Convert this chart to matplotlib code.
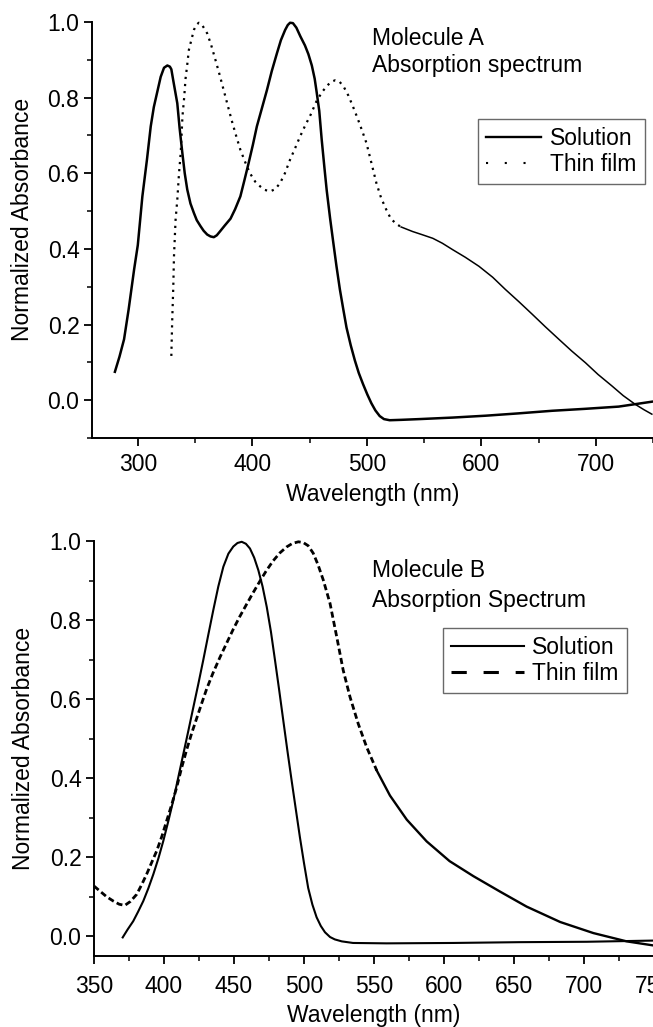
import numpy as np
import matplotlib
matplotlib.use("Agg")
import matplotlib.pyplot as plt
from matplotlib.lines import Line2D
from matplotlib.ticker import MultipleLocator, FormatStrFormatter

plt.rcParams['font.family'] = ['Liberation Sans', 'DejaVu Sans']

# ---------------- Molecule A ----------------
a_sol_wl = [280, 284, 288, 292, 296.8, 300, 304, 308, 311.3, 314, 317, 320, 322.9, 325.8, 328,
            329.3, 331, 334.5, 336.5, 338.9, 341, 343.2, 346, 349, 351.5, 354.8, 357.5, 360.6,
            363.5, 366.4, 369, 372, 376, 381, 385, 389.6, 393, 396.8, 400.5, 404, 408.5, 412.8,
            417, 421.5, 425, 428.7, 431, 433, 435.5, 438.5, 442, 446, 449, 452, 454.5, 456.2,
            458.5, 460.6, 463, 465, 468, 470.7, 473.5, 476.5, 479.5, 482.3, 486, 489.6, 493,
            496.8, 500.5, 504, 507.5, 511.3, 515, 520, 530, 546, 575, 604, 632, 662, 690, 720,
            749]
a_sol_ab = [0.075, 0.115, 0.161, 0.24, 0.346, 0.41, 0.539, 0.636, 0.724, 0.775, 0.815, 0.855,
            0.879, 0.885, 0.882, 0.875, 0.845, 0.785, 0.72, 0.654, 0.60, 0.557, 0.52, 0.495,
            0.476, 0.46, 0.448, 0.438, 0.433, 0.431, 0.436, 0.447, 0.462, 0.48, 0.505, 0.539,
            0.58, 0.627, 0.675, 0.724, 0.773, 0.82, 0.87, 0.917, 0.952, 0.979, 0.992, 0.998,
            0.997, 0.985, 0.962, 0.938, 0.915, 0.885, 0.85, 0.815, 0.765, 0.69, 0.615, 0.555,
            0.48, 0.418, 0.355, 0.293, 0.24, 0.192, 0.145, 0.105, 0.072, 0.042, 0.015, -0.008,
            -0.027, -0.042, -0.05, -0.053, -0.052, -0.05, -0.046, -0.041, -0.035, -0.028,
            -0.023, -0.017, -0.004]

a_film_wl = [329.3, 330, 331, 331.6, 333, 334.5, 336, 337.5, 339, 340.5, 341.7, 343, 344.6,
             347, 349, 351, 353.3, 356, 360.6, 364, 367.8, 371.5, 375, 378.5, 382, 386, 389.6,
             394, 398, 402.5, 407, 411, 415.6, 420, 424.3, 428.5, 433, 437.5, 441.7, 446, 451,
             456, 461, 465.5, 469, 472.5, 476, 480, 484, 488, 492, 496, 499.7, 504, 508.4,
             512.5, 517, 521, 525.8, 530, 535, 540, 548, 557.7, 566, 575, 586, 598, 610, 621,
             633, 644.6, 656, 667.8, 679, 691, 702, 714, 724, 734.5, 742, 749]
a_film_ab = [0.117, 0.205, 0.30, 0.38, 0.477, 0.53, 0.60, 0.654, 0.75, 0.80, 0.85, 0.882, 0.926,
             0.955, 0.979, 0.992, 0.998, 0.993, 0.97, 0.94, 0.90, 0.86, 0.82, 0.78, 0.74, 0.698,
             0.662, 0.628, 0.60, 0.578, 0.565, 0.556, 0.552, 0.558, 0.574, 0.60, 0.636, 0.667,
             0.697, 0.725, 0.755, 0.79, 0.815, 0.832, 0.842, 0.846, 0.843, 0.828, 0.805, 0.776,
             0.745, 0.712, 0.68, 0.628, 0.574, 0.535, 0.504, 0.48, 0.466, 0.458, 0.452, 0.446,
             0.438, 0.428, 0.415, 0.398, 0.378, 0.354, 0.325, 0.293, 0.26, 0.227, 0.194, 0.161,
             0.13, 0.099, 0.068, 0.038, 0.012, -0.011, -0.025, -0.037]

# ---------------- Molecule B ----------------
b_sol_wl = [370.5, 374, 378, 381.5, 385.2, 388.8, 392.4, 396, 399.5, 403, 406.6, 410.2, 413.8,
            417.4, 421, 424.5, 428, 431.6, 435.2, 438.8, 442.4, 446, 449.5, 452.5, 455.5,
            458.5, 461.4, 464.4, 467.4, 470.4, 473.4, 476.4, 479.3, 482.3, 485.2, 488.2, 491.2,
            494.2, 497.1, 500, 503, 506, 509, 512, 515, 518.6, 522, 527, 535, 559, 606.6, 654,
            702, 749]
b_sol_ab = [-0.003, 0.017, 0.038, 0.062, 0.089, 0.121, 0.157, 0.197, 0.241, 0.29, 0.343, 0.402,
            0.461, 0.52, 0.58, 0.638, 0.698, 0.762, 0.825, 0.885, 0.935, 0.968, 0.986, 0.995,
            0.998, 0.993, 0.981, 0.958, 0.926, 0.885, 0.833, 0.77, 0.698, 0.622, 0.546, 0.468,
            0.393, 0.32, 0.25, 0.185, 0.122, 0.08, 0.048, 0.026, 0.01, -0.002, -0.008, -0.013,
            -0.017, -0.018, -0.017, -0.015, -0.014, -0.011]

b_film_wl = [350, 354.3, 359, 363.8, 368, 372, 376, 380.5, 384, 387.6, 391, 394.8, 398.5,
             401.9, 405.5, 409, 412.5, 416.2, 419.8, 423.4, 427, 430.5, 435, 440, 444.8, 449.5,
             454, 459, 463.8, 468.6, 473.3, 478, 482.8, 487.6, 491.8, 496, 499.5, 503, 506.6,
             510, 513.8, 518.6, 523.4, 528, 532.9, 538.8, 544.8, 552, 561.4, 573.4, 587.6, 604,
             621, 640, 659, 683, 706.7, 730.5, 749]
b_film_ab = [0.127, 0.114, 0.1, 0.089, 0.081, 0.078, 0.088, 0.106, 0.13, 0.157, 0.185, 0.216,
             0.253, 0.292, 0.333, 0.376, 0.425, 0.472, 0.514, 0.552, 0.59, 0.626, 0.666, 0.706,
             0.742, 0.777, 0.808, 0.84, 0.87, 0.899, 0.926, 0.95, 0.97, 0.985, 0.994, 0.998,
             0.996, 0.988, 0.969, 0.94, 0.901, 0.842, 0.757, 0.673, 0.605, 0.537, 0.478, 0.419,
             0.356, 0.295, 0.24, 0.19, 0.152, 0.113, 0.075, 0.036, 0.008, -0.013, -0.023]

legend_labels = ["Solution", "Thin film"]
title_a = ["Molecule A", "Absorption spectrum"]
title_b = ["Molecule B", "Absorption Spectrum"]
xlabel = "Wavelength (nm)"
ylabel = "Normalized Absorbance"

W, H = 653, 1027
fig = plt.figure(figsize=(W / 100, H / 100), dpi=100)

FS = 16.5


def px_axes(l, t, r, b):
    return fig.add_axes([l / W, 1 - b / H, (r - l) / W, (b - t) / H])


def style(ax, xpad):
    for s in ['top', 'right']:
        ax.spines[s].set_visible(False)
    for s in ['left', 'bottom']:
        ax.spines[s].set_linewidth(1.4)
    ax.tick_params(which='major', direction='out', length=6, width=1.3, labelsize=FS, pad=3)
    ax.tick_params(which='minor', direction='out', length=3.5, width=1.1)
    ax.tick_params(axis='x', which='major', pad=xpad)


def split(wl, ab, cut):
    wl = np.asarray(wl); ab = np.asarray(ab)
    m1 = wl <= cut
    m2 = wl >= wl[m1][-1]
    return wl[m1], ab[m1], wl[m2], ab[m2]

# ---- top axes ----
ax1 = px_axes(92, 22, 653, 438)
style(ax1, 5)
ax1.set_xlim(260, 750)
ax1.set_ylim(-0.1, 1.0)
ax1.xaxis.set_major_locator(MultipleLocator(100))
ax1.xaxis.set_minor_locator(MultipleLocator(50))
ax1.yaxis.set_major_locator(MultipleLocator(0.2))
ax1.yaxis.set_minor_locator(MultipleLocator(0.1))
ax1.yaxis.set_major_formatter(FormatStrFormatter('%.1f'))
ax1.plot(a_sol_wl, a_sol_ab, color='black', lw=1.8, clip_on=False)
w1, a1, w2, a2 = split(a_film_wl, a_film_ab, 530)
ax1.plot(w1, a1, color='black', lw=1.6, linestyle=(0, (1, 2.2)), clip_on=False)
ax1.plot(w2, a2, color='black', lw=1.1, clip_on=False)
ax1.set_xlabel(xlabel, fontsize=FS, labelpad=5)
ax1.set_ylabel(ylabel, fontsize=FS)
ax1.yaxis.set_label_coords((23 - 92) / 561, (438 - 219) / 416)
ax1.yaxis.label.set_va('center')
fig.text(372 / W, 1 - 45 / H, title_a[0], fontsize=FS, va='baseline')
fig.text(372 / W, 1 - 72 / H, title_a[1], fontsize=FS, va='baseline')
h1 = [Line2D([], [], color='black', lw=1.7),
      Line2D([], [], color='black', lw=1.5, linestyle=(0, (1, 8)))]
leg1 = ax1.legend(h1, legend_labels, loc='upper left', bbox_to_anchor=(478 / W, 1 - 119 / H),
                  bbox_transform=fig.transFigure, fontsize=FS, frameon=True, fancybox=False,
                  borderaxespad=0, handlelength=2.4, handletextpad=0.4, borderpad=0.35,
                  labelspacing=0.12)
leg1.get_frame().set_edgecolor('#444444')
leg1.get_frame().set_linewidth(1.0)

# ---- bottom axes ----
ax2 = px_axes(94, 541, 654, 956)
style(ax2, 8)
ax2.set_xlim(350, 750)
ax2.set_ylim(-0.05, 1.0)
ax2.xaxis.set_major_locator(MultipleLocator(50))
ax2.xaxis.set_minor_locator(MultipleLocator(25))
ax2.yaxis.set_major_locator(MultipleLocator(0.2))
ax2.yaxis.set_minor_locator(MultipleLocator(0.1))
ax2.yaxis.set_major_formatter(FormatStrFormatter('%.1f'))
ax2.plot(b_sol_wl, b_sol_ab, color='black', lw=1.5, clip_on=False)
w1, a1, w2, a2 = split(b_film_wl, b_film_ab, 552)
ax2.plot(w1, a1, color='black', lw=2.0, linestyle=(0, (2.2, 1.2)), clip_on=False)
ax2.plot(w2, a2, color='black', lw=1.7, clip_on=False)
ax2.set_xlabel(xlabel, fontsize=FS, labelpad=4)
ax2.set_ylabel(ylabel, fontsize=FS)
ax2.yaxis.set_label_coords((23 - 94) / 560, (956 - 748) / 415)
ax2.yaxis.label.set_va('center')
fig.text(372 / W, 1 - 577 / H, title_b[0], fontsize=FS, va='baseline')
fig.text(372 / W, 1 - 607 / H, title_b[1], fontsize=FS, va='baseline')
h2 = [Line2D([], [], color='black', lw=1.5),
      Line2D([], [], color='black', lw=2.2, linestyle=(0, (5, 5.5)))]
leg2 = ax2.legend(h2, legend_labels, loc='upper left', bbox_to_anchor=(443 / W, 1 - 628 / H),
                  bbox_transform=fig.transFigure, fontsize=FS, frameon=True, fancybox=False,
                  borderaxespad=0, handlelength=3.2, handletextpad=0.35, borderpad=0.35,
                  labelspacing=0.15)
leg2.get_frame().set_edgecolor('#444444')
leg2.get_frame().set_linewidth(1.0)

fig.savefig("out.png", dpi=100)
